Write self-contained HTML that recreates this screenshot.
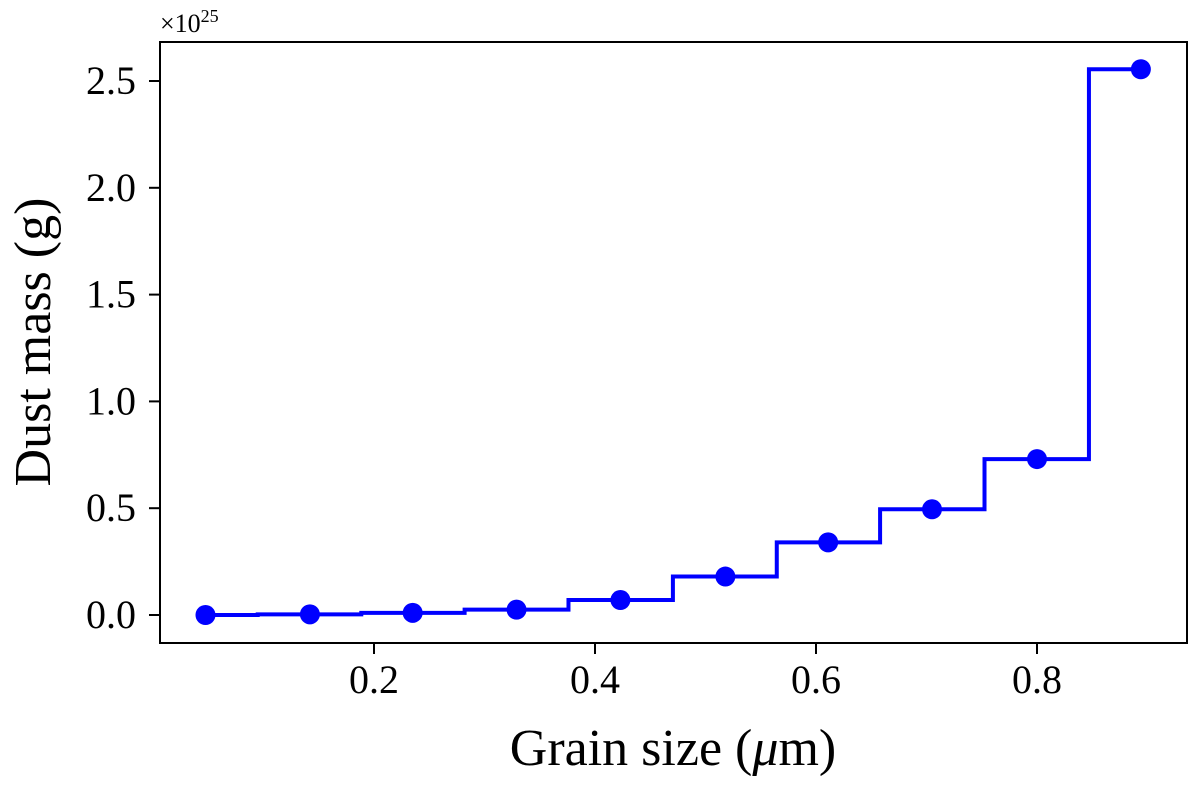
<!DOCTYPE html>
<html><head><meta charset="utf-8"><style>
html,body{margin:0;padding:0;background:#fff}
svg text{font-family:"Liberation Serif","DejaVu Serif",serif;fill:#000}
</style></head><body>
<svg id="chart" width="1200" height="786" xmlns="http://www.w3.org/2000/svg">
<g id="axes"></g>
<g id="marks"></g>
<rect x="160" y="42" width="1027" height="601" fill="none" stroke="#000" stroke-width="2"/>
<text x="160" y="32" font-size="26">×10<tspan font-size="18" dy="-10">25</tspan></text>
<text x="673" y="765" font-size="52" text-anchor="middle">Grain size (<tspan font-style="italic">μ</tspan>m)</text>
<text transform="translate(50,342) rotate(-90)" font-size="52" text-anchor="middle">Dust mass (g)</text>
</svg>
<script>
const grainSizes=[0.0475,0.142,0.235,0.329,0.423,0.518,0.611,0.705,0.800,0.894];
const dustMass=[0.0,0.003,0.01,0.025,0.07,0.18,0.34,0.495,0.73,2.555];
const xTicks=[0.2,0.4,0.6,0.8];
const xTickLabels=["0.2","0.4","0.6","0.8"];
const yTicks=[0,0.5,1.0,1.5,2.0,2.5];
const yTickLabels=["0.0","0.5","1.0","1.5","2.0","2.5"];
const NS="http://www.w3.org/2000/svg";
function xs(v){return 153+v*1105;}
function ys(v){return 615-v*213.6;}
function mk(t,a,p){const e=document.createElementNS(NS,t);for(const k in a)e.setAttribute(k,a[k]);p.appendChild(e);return e;}
const axes=document.getElementById('axes'),marks=document.getElementById('marks');
xTicks.forEach((v,i)=>{
 const l=mk('line',{x1:xs(v),x2:xs(v),y1:643,y2:654,stroke:'#000','stroke-width':2},axes);
 
 
 const t=mk('text',{x:xs(v),y:693,'font-size':40,'text-anchor':'middle'},axes);t.textContent=xTickLabels[i];
 
 
});
yTicks.forEach((v,i)=>{
 const l=mk('line',{x1:149,x2:160,y1:ys(v),y2:ys(v),stroke:'#000','stroke-width':2},axes);
 
 
 const t=mk('text',{x:136,y:ys(v)+13,'font-size':40,'text-anchor':'end'},axes);t.textContent=yTickLabels[i];
 
 
});
let d='M'+xs(grainSizes[0])+','+ys(dustMass[0]);
for(let i=1;i<grainSizes.length;i++){
 const m=xs((grainSizes[i-1]+grainSizes[i])/2);
 d+=' H'+m+' V'+ys(dustMass[i]);
}
d+=' H'+xs(grainSizes[grainSizes.length-1]);
const p=mk('path',{d:d,fill:'none',stroke:'#0000ff','stroke-width':4},marks);


grainSizes.forEach((g,i)=>{
 const c=mk('circle',{cx:xs(g),cy:ys(dustMass[i]),r:10,fill:'#0000ff'},marks);
 
 
});
</script>
</body></html>
